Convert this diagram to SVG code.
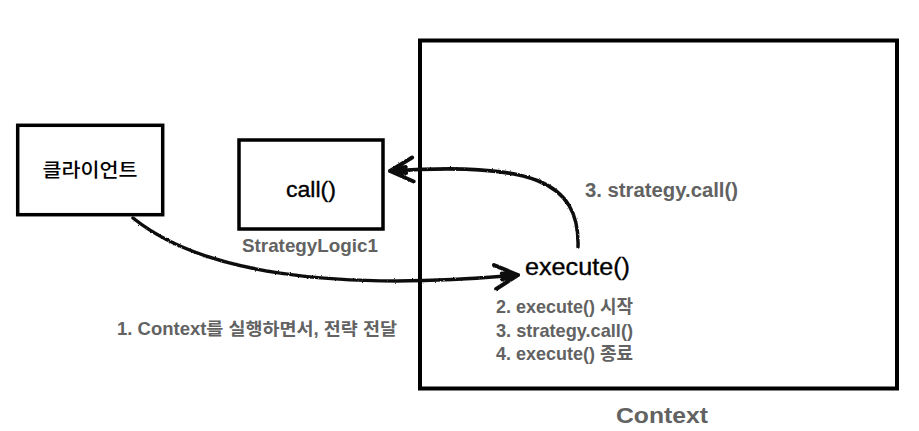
<svg xmlns="http://www.w3.org/2000/svg" width="919" height="431" viewBox="0 0 919 431">
<style>
  .box { fill: #ffffff; stroke: #000000; stroke-width: 3.5; }
  .ctx { fill: #ffffff; stroke: #000000; stroke-width: 4; }
  .gray { font-family: "Liberation Sans", "Noto Sans CJK KR", sans-serif; font-weight: bold; fill: #626262; }
  .blk { font-family: "Liberation Sans", "Noto Sans CJK KR", sans-serif; fill: #000000; stroke: #000000; stroke-width: 0.35; }
  .kr { font-family: "Noto Sans CJK KR", sans-serif; font-weight: 500; fill: #000000; }
  .conn { fill: none; stroke: #111111; stroke-width: 3.5; stroke-linecap: round; filter: url(#rough); }
</style>
<defs>
  <filter id="rough" x="-5%" y="-20%" width="110%" height="140%">
    <feTurbulence type="fractalNoise" baseFrequency="0.6" numOctaves="2" seed="3" result="n"/>
    <feDisplacementMap in="SourceGraphic" in2="n" scale="2.2" xChannelSelector="R" yChannelSelector="G"/>
  </filter>
  <marker id="head" markerUnits="userSpaceOnUse" viewBox="-28 -16 32 32" refX="0" refY="0" markerWidth="32" markerHeight="32" orient="auto">
    <path d="M-23,-12 L0,0 L-23,12 M-16,-3 L0,0 L-16,3" fill="none" stroke="#111111" stroke-width="4" stroke-linejoin="round" stroke-linecap="round"/>
  </marker>
</defs>

<g id="context">
  <rect class="ctx" x="420" y="40.5" width="477" height="348"/>
  <text class="gray" x="662" y="423" font-size="22" text-anchor="middle" textLength="92" lengthAdjust="spacingAndGlyphs">Context</text>
</g>

<g id="client">
  <rect class="box" x="17.7" y="125.3" width="145" height="89.4"/>
  <text class="kr" x="90" y="177" font-size="19" text-anchor="middle" textLength="95" lengthAdjust="spacingAndGlyphs">클라이언트</text>
</g>

<g id="strategy">
  <rect class="box" x="239" y="140" width="144" height="89"/>
  <text class="blk" x="286" y="197" font-size="22" textLength="50" lengthAdjust="spacingAndGlyphs">call()</text>
  <text class="gray" x="242" y="252" font-size="19" textLength="136" lengthAdjust="spacingAndGlyphs">StrategyLogic1</text>
</g>

<g id="execute">
  <text class="blk" x="525" y="275" font-size="23" textLength="105" lengthAdjust="spacingAndGlyphs">execute()</text>
  <text class="gray" x="496" y="313" font-size="18.5" textLength="137" lengthAdjust="spacingAndGlyphs">2. execute() 시작</text>
  <text class="gray" x="496" y="337" font-size="18.5" textLength="137" lengthAdjust="spacingAndGlyphs">3. strategy.call()</text>
  <text class="gray" x="496" y="360" font-size="18.5" textLength="137" lengthAdjust="spacingAndGlyphs">4. execute() 종료</text>
</g>

<g id="connectors">
  <path class="conn" d="M133,218 C 200,272 330,292 518,275" marker-end="url(#head)"/>
  <path class="conn" d="M578,247 C 580,180 530,162 390,171" marker-end="url(#head)"/>
  <text class="gray" x="117" y="335" font-size="17.5" textLength="280" lengthAdjust="spacingAndGlyphs">1. Context를 실행하면서, 전략 전달</text>
  <text class="gray" x="585" y="197" font-size="20" textLength="153" lengthAdjust="spacingAndGlyphs">3. strategy.call()</text>
</g>
</svg>
